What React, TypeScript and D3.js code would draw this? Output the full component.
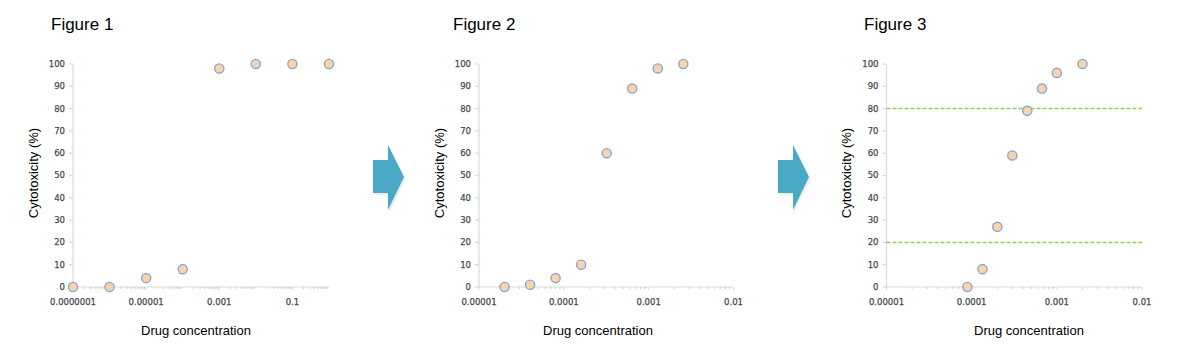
import * as d3 from 'd3';

// Figure 1 – wide range screen
const fig1Conc = [1e-7, 1e-6, 1e-5, 1e-4, 1e-3, 1e-2, 1e-1, 1];
const fig1Tox = [0, 0, 4, 8, 98, 100, 100, 100];
const fig1Ticks = [1e-7, 1e-5, 1e-3, 1e-1];
const fig1TickLabels = ['0.0000001', '0.00001', '0.001', '0.1'];

// Figure 2 – 2-fold dilution series
const fig2Conc = [2e-5, 4e-5, 8e-5, 1.6e-4, 3.2e-4, 6.4e-4, 1.28e-3, 2.56e-3];
const fig2Tox = [0, 1, 4, 10, 60, 89, 98, 100];
const fig2Ticks = [1e-5, 1e-4, 1e-3, 1e-2];
const fig2TickLabels = ['0.00001', '0.0001', '0.001', '0.01'];

// Figure 3 – narrow series with 20% / 80% guides
const fig3Conc = [8.9e-5, 1.34e-4, 2e-4, 3e-4, 4.5e-4, 6.7e-4, 1e-3, 2e-3];
const fig3Tox = [0, 8, 27, 59, 79, 89, 96, 100];
const fig3Ticks = [1e-5, 1e-4, 1e-3, 1e-2];
const fig3TickLabels = ['0.00001', '0.0001', '0.001', '0.01'];
const fig3Guides = [80, 20];

const yTicks = [0, 10, 20, 30, 40, 50, 60, 70, 80, 90, 100];

const TOP = 64;
const BOTTOM = 287;
const AXIS_COLOR = '#d9d9d9';
const TICK_TEXT = '#4a4a4a';
const MARKER_FILL = '#fad3a6';
const MARKER_STROKE = '#8aa6d6';
const ARROW_COLOR = '#4aaac6';

type PanelProps = {
  title: string;
  titleX: number;
  xLabelX: number;
  left: number;
  right: number;
  domain: [number, number];
  conc: number[];
  tox: number[];
  ticks: number[];
  tickLabels: string[];
  guides?: number[];
};

function Panel({ title, titleX, xLabelX, left, right, domain, conc, tox, ticks, tickLabels, guides = [] }: PanelProps) {
  const x = d3.scaleLog().domain(domain).range([left, right]);
  const y = d3.scaleLinear().domain([0, 100]).range([BOTTOM, TOP]);

  // minor ticks 2..9 in every decade
  const minor: number[] = [];
  const lo = Math.round(Math.log10(domain[0]));
  const hi = Math.round(Math.log10(domain[1]));
  for (let e = lo; e < hi; e++) {
    for (let m = 2; m <= 9; m++) minor.push(m * Math.pow(10, e));
  }

  return (
    <g>
      <text x={titleX} y={30} fontFamily="Arial, 'Liberation Sans', sans-serif" fontSize={17} fill="#000">
        {title}
      </text>

      {/* y axis */}
      <line x1={left} x2={left} y1={y(0)} y2={y(100)} stroke={AXIS_COLOR} strokeWidth={1.2} />
      {yTicks.map(t => (
        <g key={t}>
          <line x1={left - 4} x2={left} y1={y(t)} y2={y(t)} stroke={AXIS_COLOR} strokeWidth={1.2} />
          <text
            x={left - 8}
            y={y(t)}
            dy="0.35em"
            textAnchor="end"
            fontFamily="'DejaVu Sans', sans-serif"
            fontSize={8.5}
            fill={TICK_TEXT}
            stroke={TICK_TEXT}
            strokeWidth={0.25}
          >
            {t}
          </text>
        </g>
      ))}

      {/* x axis */}
      <line x1={left} x2={right} y1={BOTTOM} y2={BOTTOM} stroke={AXIS_COLOR} strokeWidth={1.2} />
      {minor.map(m => (
        <line key={m} x1={x(m)} x2={x(m)} y1={BOTTOM} y2={BOTTOM + 2} stroke="#cccccc" strokeWidth={1} />
      ))}
      {ticks.map((t, i) => (
        <g key={t}>
          <line x1={x(t)} x2={x(t)} y1={BOTTOM} y2={BOTTOM + 3} stroke={AXIS_COLOR} strokeWidth={1} />
          <text
            x={x(t)}
            y={302}
            dy="0.35em"
            textAnchor="middle"
            fontFamily="'DejaVu Sans', sans-serif"
            fontSize={8.5}
            fill={TICK_TEXT}
            stroke={TICK_TEXT}
            strokeWidth={0.25}
          >
            {tickLabels[i]}
          </text>
        </g>
      ))}

      {/* guide lines */}
      {guides.map(gv => (
        <line
          key={gv}
          x1={left}
          x2={right}
          y1={y(gv)}
          y2={y(gv)}
          stroke="#92d050"
          strokeWidth={1.5}
          strokeDasharray="4 2"
        />
      ))}

      {/* points */}
      {conc.map((c, i) => (
        <circle
          key={i}
          cx={x(c)}
          cy={y(tox[i])}
          r={4.6}
          fill={MARKER_FILL}
          stroke={MARKER_STROKE}
          strokeWidth={1.4}
        />
      ))}

      {/* axis titles */}
      <text
        x={xLabelX}
        y={334.5}
        textAnchor="middle"
        fontFamily="Arial, 'Liberation Sans', sans-serif"
        fontSize={13}
        fill="#000"
      >
        Drug concentration
      </text>
      <text
        transform={`translate(${left - 40},173) rotate(-90)`}
        textAnchor="middle"
        dy="0.35em"
        fontFamily="Arial, 'Liberation Sans', sans-serif"
        fontSize={13}
        fill="#000"
      >
        Cytotoxicity (%)
      </text>
    </g>
  );
}

function Arrow({ x0 }: { x0: number }) {
  const p = d3.path();
  p.moveTo(x0, 160);
  p.lineTo(x0 + 15, 160);
  p.lineTo(x0 + 15, 145);
  p.lineTo(x0 + 31, 177);
  p.lineTo(x0 + 15, 210);
  p.lineTo(x0 + 15, 193);
  p.lineTo(x0, 193);
  p.closePath();
  return (
    <g>
      <path d={p.toString()} fill="#000" opacity={0.08} transform="translate(1.5,2)" />
      <path d={p.toString()} fill={ARROW_COLOR} />
    </g>
  );
}

export default function App() {
  return (
    <svg
      width={1187}
      height={352}
      style={{ position: 'absolute', left: 0, top: 0, background: '#fff' }}
    >
      <rect width={1187} height={352} fill="#fff" />
      <Panel
        title="Figure 1"
        titleX={51}
        xLabelX={196}
        left={73}
        right={329}
        domain={[1e-7, 1]}
        conc={fig1Conc}
        tox={fig1Tox}
        ticks={fig1Ticks}
        tickLabels={fig1TickLabels}
      />
      <Panel
        title="Figure 2"
        titleX={453}
        xLabelX={598}
        left={479}
        right={733.5}
        domain={[1e-5, 1e-2]}
        conc={fig2Conc}
        tox={fig2Tox}
        ticks={fig2Ticks}
        tickLabels={fig2TickLabels}
      />
      <Panel
        title="Figure 3"
        titleX={864}
        xLabelX={1029}
        left={886.5}
        right={1142}
        domain={[1e-5, 1e-2]}
        conc={fig3Conc}
        tox={fig3Tox}
        ticks={fig3Ticks}
        tickLabels={fig3TickLabels}
        guides={fig3Guides}
      />
      <Arrow x0={373} />
      <Arrow x0={778} />
    </svg>
  );
}
